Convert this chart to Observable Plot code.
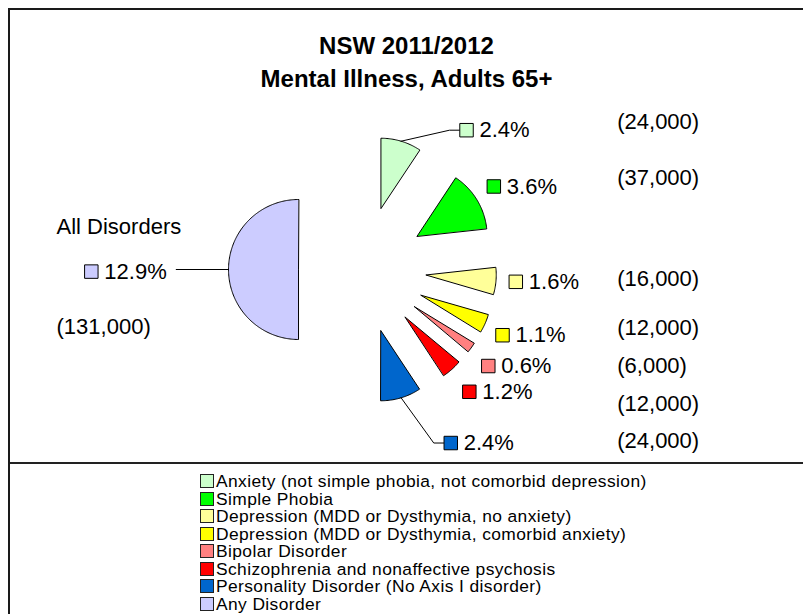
<!DOCTYPE html>
<html><head><meta charset="utf-8">
<script src="https://cdn.jsdelivr.net/npm/d3@7"></script>
<script src="https://cdn.jsdelivr.net/npm/@observablehq/plot@0.6"></script>
<style>
html,body{margin:0;padding:0;background:#fff;}
body{width:803px;height:614px;position:relative;overflow:hidden;font-family:"Liberation Sans",Arial,sans-serif;}
#frame{position:absolute;left:8px;top:8px;width:800px;height:610px;border-left:2px solid #1a1a1a;border-top:2px solid #1a1a1a;}
#title{position:absolute;left:10px;width:793px;top:29px;text-align:center;font-family:"Liberation Sans",Arial,sans-serif;font-weight:bold;font-size:24px;line-height:33px;color:#000;}
#chart{position:absolute;left:0;top:100px;}
#legend{position:absolute;left:10px;top:462px;width:793px;height:152px;border-top:2px solid #222;}
#legend .rows{position:absolute;left:190px;top:9px;}
#legend .row{height:17.5px;line-height:17.5px;font-size:17.4px;letter-spacing:0.4px;white-space:nowrap;color:#000;}
#legend .sw{display:inline-block;width:12px;height:12px;border:1px solid #222;vertical-align:-1px;margin-right:2px;}
</style></head>
<body>
<div id="frame"></div>
<div id="title"></div>
<div id="chart"></div>
<div id="legend"><div class="rows"></div></div>
<script>
// ---- data ----
const titleLines = ["NSW 2011/2012", "Mental Illness, Adults 65+"];
const categories = [
  "Anxiety (not simple phobia, not comorbid depression)",
  "Simple Phobia",
  "Depression (MDD or Dysthymia, no anxiety)",
  "Depression (MDD or Dysthymia, comorbid anxiety)",
  "Bipolar Disorder",
  "Schizophrenia and nonaffective psychosis",
  "Personality Disorder (No Axis I disorder)",
  "Any Disorder"
];
const percents = [2.4, 3.6, 1.6, 1.1, 0.6, 1.2, 2.4, 12.9];
const counts = ["(24,000)", "(37,000)", "(16,000)", "(12,000)", "(6,000)", "(12,000)", "(24,000)", "(131,000)"];
const allLabel = "All Disorders";
const colors = ["#ccffcc", "#00ff00", "#ffff99", "#ffff00", "#ff8080", "#ff0000", "#0066cc", "#ccccff"];

// ---- layout (in pie-radius units, relative to pie centre) ----
const explode = 0.914;
const labelX = [1.486, 1.876, 2.19, 2.0, 1.797, 1.526, 1.261, -3.874];
const labelY = [1.99, 1.186, -0.176, -0.939, -1.379, -1.747, -2.479, -0.03];
const countX = [3.639, 3.639, 3.639, 3.639, 3.639, 3.639, 3.639, -4.371];
const countY = [2.104, 1.31, -0.133, -0.839, -1.381, -1.919, -2.453, -0.824];
const allLabelPos = [-4.371, 0.61];
const leaderEndX = [1.243, null, null, null, null, null, 1.018, -2.661];

// title
document.getElementById("title").innerHTML = titleLines.map(t => `<div>${t}</div>`).join("");

// build slices
const rows = categories.map((c, i) => ({cat: c, pct: percents[i], color: colors[i], i}));
const arcs = d3.pie().sort(null).value(d => d.pct)(rows);
const polys = [];
const leaders = [];
arcs.forEach(a => {
  const mid = (a.startAngle + a.endAngle) / 2;
  const ox = explode * Math.sin(mid), oy = explode * Math.cos(mid);
  const pts = [{x: ox, y: oy}];
  const n = Math.max(2, Math.ceil((a.endAngle - a.startAngle) / (Math.PI / 180)));
  for (let k = 0; k <= n; k++) {
    const t = a.startAngle + (a.endAngle - a.startAngle) * k / n;
    pts.push({x: ox + Math.sin(t), y: oy + Math.cos(t)});
  }
  polys.push({pts, color: a.data.color});
  const i = a.data.i;
  if (leaderEndX[i] != null) {
    const sx = ox + Math.sin(mid), sy = oy + Math.cos(mid);
    if (i === 7) {
      leaders.push({x: sx, y: sy, k: i}, {x: leaderEndX[i], y: sy, k: i});
    } else {
      leaders.push({x: sx, y: sy, k: i}, {x: leaderEndX[i], y: labelY[i], k: i}, {x: labelX[i] - 0.1, y: labelY[i], k: i});
    }
  }
});

const labels = rows.map(r => ({x: labelX[r.i], y: labelY[r.i], color: r.color, text: r.pct.toFixed(1) + "%"}));
const countLabels = rows.map(r => ({x: countX[r.i], y: countY[r.i], text: counts[r.i]}));

const font = "Liberation Sans, Arial, sans-serif";
const plot = Plot.plot({
  width: 803, height: 362,
  margin: 0,
  x: {domain: [-362 / 70, (803 - 362) / 70], axis: null},
  y: {domain: [-(362 - 169) / 70, 169 / 70], axis: null},
  style: {background: "transparent", overflow: "visible"},
  marks: [
    ...polys.map(p => Plot.line(p.pts, {x: "x", y: "y", fill: p.color, stroke: "#000", strokeWidth: 1, curve: "linear-closed"})),
    Plot.line(leaders, {x: "x", y: "y", z: "k", stroke: "#000", strokeWidth: 1}),
    Plot.dot(labels, {x: "x", y: "y", symbol: "square", r: 7.6, fill: "color", stroke: "#000", strokeWidth: 1}),
    Plot.text(labels, {x: "x", y: "y", text: "text", dx: 13, textAnchor: "start", fontSize: 22, fontFamily: font, fill: "#000"}),
    Plot.text(countLabels, {x: "x", y: "y", text: "text", textAnchor: "start", fontSize: 22, fontFamily: font, fill: "#000"}),
    Plot.text([allLabel], {x: () => allLabelPos[0], y: () => allLabelPos[1], text: d => d, textAnchor: "start", fontSize: 22, fontFamily: font, fill: "#000"})
  ]
});
document.getElementById("chart").appendChild(plot);

// legend
const lg = document.querySelector("#legend .rows");
rows.forEach(r => {
  const div = document.createElement("div");
  div.className = "row";
  div.innerHTML = `<span class="sw" style="background:${r.color}"></span>${r.cat}`;
  lg.appendChild(div);
});
</script>
</body></html>
